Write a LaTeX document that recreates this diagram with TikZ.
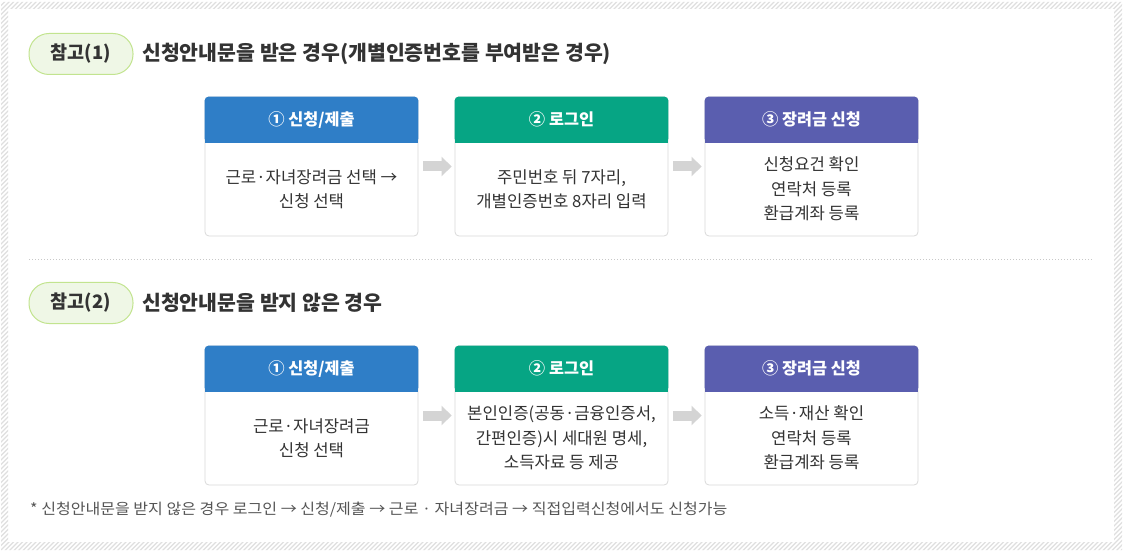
\documentclass[tikz,border=0pt]{standalone}
\usepackage{fontspec}
\setmainfont{Noto Sans CJK KR}
\usetikzlibrary{arrows.meta}
\definecolor{hatchc}{HTML}{DFDFDF}
\definecolor{txt}{HTML}{333333}
\definecolor{notec}{HTML}{555555}
\definecolor{pillfill}{HTML}{EFF7E6}
\definecolor{pillline}{HTML}{C2E48F}
\definecolor{cblue}{HTML}{2F7EC7}
\definecolor{cgreen}{HTML}{06A584}
\definecolor{cpurple}{HTML}{5A5EAF}
\definecolor{cardline}{HTML}{DADADA}
\definecolor{arrowc}{HTML}{D4D4D4}
\definecolor{sepc}{HTML}{C8C8C8}
\tikzset{
  hatch/.style={draw=hatchc, line width=1.1pt},
  pill/.style={draw=pillline, fill=pillfill, line width=1pt, rounded corners=20pt,
    minimum width=104pt, minimum height=41pt, inner sep=0pt, text=txt,
    font=\bfseries\fontsize{18.5}{21}\selectfont},
  titletext/.style={anchor=west, inner sep=0pt, text=txt, font=\bfseries\fontsize{20.5}{24}\selectfont},
  cardbox/.style={draw=cardline, fill=white, line width=0.8pt, rounded corners=4pt,
    minimum width=213pt, minimum height=139pt, inner sep=0pt},
  headtext/.style={text=white, inner sep=0pt, font=\bfseries\fontsize{16.3}{19}\selectfont},
  bodytext/.style={text=txt, align=center, inner sep=0pt, font=\fontsize{16.7}{24.5}\selectfont},
  blockarrow/.style={draw=arrowc, line width=10pt, -{Triangle[length=10pt, width=19pt]}},
  notetext/.style={anchor=west, inner sep=0pt, text=notec, font=\fontsize{15}{18}\selectfont},
}
\newcommand{\stepcard}[5]{%
  \node[cardbox] (#1) at #2 {};
  \fill[#3, rounded corners=4pt] (#1.north west) rectangle ([yshift=-46pt]#1.north east);
  \fill[#3] ([yshift=-20pt]#1.north west) rectangle ([yshift=-46pt]#1.north east);
  \node[headtext] (#1h) at ([yshift=-23pt]#1.north) {#4};
  \node[bodytext] (#1b) at ([yshift=-92.5pt]#1.north) {#5};
}
\begin{document}
\begin{tikzpicture}[x=1pt, y=-1pt]
\useasboundingbox (0,0) rectangle (1127,553);
\fill[white] (0,0) rectangle (1127,553);
% hatched frame
\begin{scope}[even odd rule]
  \clip (1,2) rectangle (1122,550) (8,9) rectangle (1114,542);
  \foreach \i in {-560,-555.5,...,1130} \draw[hatch] (\i,553) -- ++(553,-553);
\end{scope}
% section 1
\node[pill] (p1) at (81,54) {참고(1)};
\node[titletext] (t1) at (142,54) {신청안내문을 받은 경우(개별인증번호를 부여받은 경우)};
\stepcard{a1}{(311.5,166.5)}{cblue}{① 신청/제출}{근로·자녀장려금 선택 →\\신청 선택}
\stepcard{a2}{(561.5,166.5)}{cgreen}{② 로그인}{주민번호 뒤 7자리,\\개별인증번호 8자리 입력}
\stepcard{a3}{(811.5,166.5)}{cpurple}{③ 장려금 신청}{신청요건 확인\\연락처 등록\\환급계좌 등록}
\draw[blockarrow] ([xshift=5pt]a1.east) -- ([xshift=-3pt]a2.west);
\draw[blockarrow] ([xshift=5pt]a2.east) -- ([xshift=-3pt]a3.west);
% separator
\coordinate (s1) at (29,259);
\coordinate (s2) at (1093,259);
\draw[sepc, line width=0.8pt, dash pattern=on 1pt off 2pt] (s1) -- (s2);
% section 2
\node[pill] (p2) at (81,303) {참고(2)};
\node[titletext] (t2) at (142,303) {신청안내문을 받지 않은 경우};
\stepcard{b1}{(311.5,415.5)}{cblue}{① 신청/제출}{근로·자녀장려금\\신청 선택}
\stepcard{b2}{(561.5,415.5)}{cgreen}{② 로그인}{본인인증(공동·금융인증서,\\간편인증)시 세대원 명세,\\소득자료 등 제공}
\stepcard{b3}{(811.5,415.5)}{cpurple}{③ 장려금 신청}{소득·재산 확인\\연락처 등록\\환급계좌 등록}
\draw[blockarrow] ([xshift=5pt]b1.east) -- ([xshift=-3pt]b2.west);
\draw[blockarrow] ([xshift=5pt]b2.east) -- ([xshift=-3pt]b3.west);
% footnote
\node[notetext] (note) at (30,510) {\scalebox{1.07}[1]{* 신청안내문을 받지 않은 경우 로그인 → 신청/제출 → 근로 · 자녀장려금 → 직접입력신청에서도 신청가능}};
\end{tikzpicture}
\end{document}
